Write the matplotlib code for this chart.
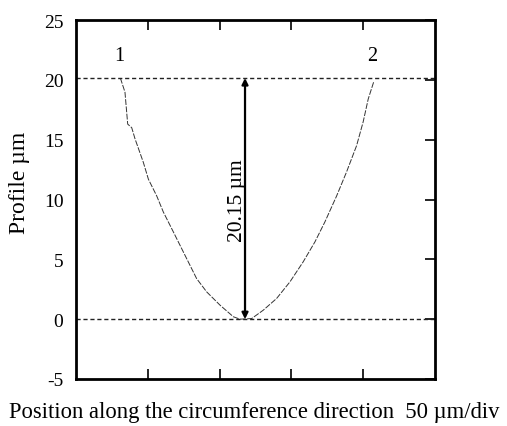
import matplotlib
matplotlib.use("Agg")
import matplotlib.pyplot as plt

plt.rcParams['font.family'] = ['Liberation Serif', 'DejaVu Serif']

# Measured surface profile (position in um, height in um)
left_x = [30.9, 34.1, 36.0, 38.8, 41.1, 46.9, 50.4, 56.2, 60.8, 67.8, 75.9, 84.0, 91.0, 100.3, 109.6, 114.2]
left_y = [20.15, 18.97, 16.3, 16.0, 15.07, 13.1, 11.7, 10.3, 8.96, 7.29, 5.34, 3.39, 2.28, 1.17, 0.2, 0.0]
right_x = [122.3, 130.4, 139.7, 149.0, 158.2, 166.4, 173.3, 181.5, 188.4, 195.4, 200.0, 203.5, 207.5]
right_y = [0.05, 0.75, 1.73, 3.12, 4.79, 6.46, 8.12, 10.3, 12.3, 14.5, 16.5, 18.4, 19.9]

depth = 20.15
arrow_x = 117.7
edge_labels = ["1", "2"]
edge_x = [30.0, 206.0]

x_ticks = [50, 100, 150, 200]
y_ticks = [-5, 0, 5, 10, 15, 20, 25]

fig = plt.figure(figsize=(5.07, 4.27), dpi=100)
ax = fig.add_axes([76 / 507, 1 - 380 / 427, 359 / 507, 359 / 427])

profile_x = left_x + right_x
profile_y = left_y + right_y
ax.plot(profile_x, profile_y, color='#333333', lw=0.7, ls=(0, (6, 1.5)))

# reference levels
ax.axhline(0, color='#222222', lw=1.0, ls=(0, (3, 2)), clip_on=False)
ax.axhline(depth, color='#222222', lw=1.0, ls=(0, (3, 2)), clip_on=False)

ax.annotate('', xy=(arrow_x, depth), xytext=(arrow_x, 0),
            arrowprops=dict(arrowstyle='<|-|>', color='black', lw=1.6,
                            mutation_scale=9, shrinkA=0, shrinkB=0))
ax.text(arrow_x - 5.5, 10.0, f'{depth:.2f} \u00b5m', rotation=90,
        ha='center', va='center', fontsize=15.5)

for lbl, xx in zip(edge_labels, edge_x):
    ax.text(xx, 22.0, lbl, ha='center', va='center', fontsize=14.5)

ax.set_xlim(0, 250)
ax.set_ylim(-5, 25)
ax.set_xticks(x_ticks)
ax.set_yticks(y_ticks)
ax.set_yticklabels([str(v) for v in y_ticks])
ax.tick_params(axis='x', direction='in', top=True, bottom=True,
               labelbottom=False, length=7, width=1.2)
ax.tick_params(axis='y', direction='in', left=False, right=True,
               labelleft=True, length=7, width=1.2, labelsize=14, pad=9)
for s in ax.spines.values():
    s.set_linewidth(2.0)

fig.text(20 / 507, 1 - 183 / 427, 'Profile \u00b5m', rotation=90,
         ha='center', va='center', fontsize=17)
fig.text(254 / 507, 1 - 413 / 427,
         'Position along the circumference direction  50 \u00b5m/div',
         ha='center', va='center', fontsize=16.3)

fig.savefig('out.png', dpi=100)
